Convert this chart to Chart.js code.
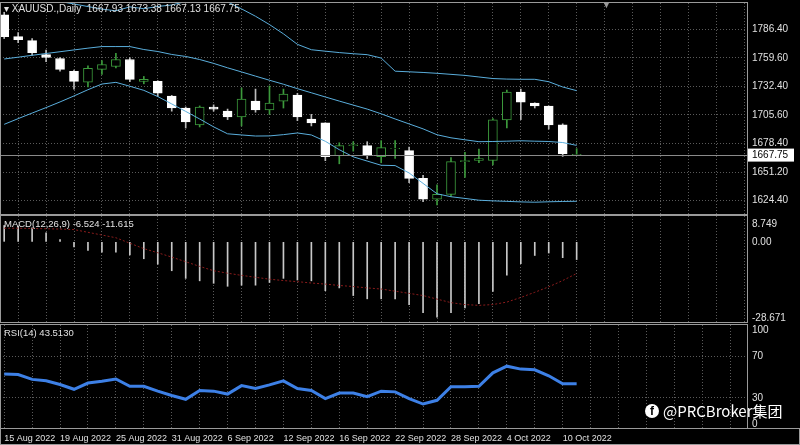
<!DOCTYPE html>
<html><head><meta charset="utf-8">
<script src="https://cdn.jsdelivr.net/npm/chart.js@4/dist/chart.umd.min.js"></script>
<style>
html,body{margin:0;padding:0;background:#000;width:800px;height:445px;overflow:hidden;font-family:"Liberation Sans",Arial,sans-serif}
.cv{position:absolute;left:0;width:800px}
.frame{position:absolute;border:1px solid #9a9a9a;box-sizing:border-box;pointer-events:none}
.lbl{position:absolute;color:#e0e0e0;font-size:10px;white-space:nowrap}
#wm{position:absolute;left:645px;top:400px;color:#fff;font-family:"Noto Sans CJK SC","Noto Sans",sans-serif;font-size:15px;display:flex;align-items:center;gap:4px}
#wm .fb{display:inline-block;width:14px;height:14px;border-radius:50%;background:#fff;color:#000;font-weight:bold;font-size:12px;line-height:15px;text-align:center;font-family:"Liberation Sans",sans-serif}
</style></head><body>
<div class="cv" style="top:3px;height:211px"><canvas id="c1"></canvas></div>
<div class="cv" style="top:216px;height:106px"><canvas id="c2"></canvas></div>
<div class="cv" style="top:325px;height:120px"><canvas id="c3"></canvas></div>
<div class="frame" style="left:0;top:2px;width:748px;height:213px"></div>
<div class="frame" style="left:0;top:215px;width:748px;height:108px"></div>
<div class="frame" style="left:0;top:324px;width:748px;height:105px"></div>
<div class="frame" style="left:0;top:428px;width:800px;height:17px"></div>
<div class="lbl" style="left:4px;top:3px">▾ XAUUSD.,Daily&nbsp; 1667.93 1673.38 1667.13 1667.75</div>
<div class="lbl" style="left:4px;top:218px;font-size:9.5px">MACD(12,26,9) -6.524 -11.615</div>
<div class="lbl" style="left:4px;top:327px;font-size:9.5px">RSI(14) 43.5130</div>
<div class="lbl" style="left:602px;top:0px;color:#999;font-size:9px">▼</div>
<div id="wm"><span class="fb">f</span><span>@PRCBroker集团</span></div>
<script>
// ---- data ----
const dates = ['15 Aug 2022','16 Aug','17 Aug','18 Aug','19 Aug 2022','22 Aug','23 Aug','24 Aug','25 Aug 2022','26 Aug','29 Aug','30 Aug','31 Aug 2022','1 Sep','2 Sep','5 Sep','6 Sep 2022','7 Sep','8 Sep','9 Sep','12 Sep 2022','13 Sep','14 Sep','15 Sep','16 Sep 2022','19 Sep','20 Sep','21 Sep','22 Sep 2022','23 Sep','26 Sep','27 Sep','28 Sep 2022','29 Sep','30 Sep','3 Oct','4 Oct 2022','5 Oct','6 Oct','7 Oct','10 Oct 2022','11 Oct'];
const dateTickEvery = 4;
const openP  = [1800.5,1779.8,1776.0,1762.8,1759.1,1746.8,1736.5,1748.7,1751.5,1758.1,1737.4,1737.4,1723.3,1712.0,1696.0,1712.9,1709.2,1703.5,1718.6,1710.1,1718.6,1724.2,1701.6,1697.9,1666.8,1676.2,1676.2,1665.8,1673.4,1671.5,1645.1,1625.3,1630.0,1661.1,1662.1,1662.1,1700.7,1727.1,1716.7,1713.9,1696.0,1667.93];
const highP  = [1803,1783.6,1778,1767,1760,1748,1752,1757,1764,1760,1742,1738,1724,1713,1714,1715,1711,1731,1730,1733,1730,1726,1706,1698,1679,1680,1680,1681,1681,1675,1648,1639,1665,1670,1673,1702,1729,1730,1717,1714,1697,1673.38];
const lowP   = [1778,1774,1762,1756,1747,1730,1732,1744,1750,1737,1735,1723,1709,1693,1694,1709,1701,1695,1708,1706,1712,1700,1695,1662,1659,1671,1664,1660,1664,1641,1623,1620,1628,1646,1660,1658,1693,1701,1712,1692,1666,1667.13];
const closeP = [1779.8,1777.0,1764.7,1760.0,1748.7,1737.4,1749.7,1753.4,1758.1,1739.3,1739.3,1726.1,1712.0,1698.8,1712.9,1711.0,1703.5,1720.5,1710.1,1716.7,1725.2,1703.5,1697.9,1665.8,1676.2,1677.1,1666.8,1674.3,1673.8,1645.1,1625.3,1630.0,1661.1,1662.1,1663.9,1700.7,1727.1,1717.6,1713.9,1696.0,1668.7,1667.75];
const bbUpper = [1820.7,1818.7,1817.0,1815.2,1813.2,1810.9,1808.4,1806.0,1804.4,1808.1,1806.4,1808.5,1809.9,1813.2,1814.6,1814.7,1812.9,1806.2,1799.2,1791.3,1782.5,1772.5,1767.4,1766.0,1764.7,1763.6,1762.7,1759.5,1747.0,1746.4,1745.8,1745.0,1744.0,1743.0,1741.5,1740.0,1739.5,1739.3,1739.3,1737.0,1732.0,1728.5];
const bbMiddle = [1758.6,1760.3,1762.1,1763.8,1765.5,1767.2,1768.9,1770.4,1770.4,1770.4,1767.6,1765.7,1762.9,1761.0,1758.1,1754.4,1750.2,1746.3,1742.3,1738.4,1734.6,1730.4,1726.5,1722.5,1718.6,1714.8,1711.0,1706.5,1701.6,1696.9,1692.2,1686.6,1683.7,1681.8,1680.0,1680.2,1680.5,1680.9,1680.5,1680.2,1679.2,1676.5];
const bbLower = [1696.5,1701.9,1707.2,1712.4,1717.8,1723.5,1729.4,1734.8,1736.4,1732.7,1728.8,1722.9,1715.9,1708.8,1701.6,1694.1,1687.5,1686.4,1685.4,1685.5,1686.7,1688.3,1686.4,1680.4,1672.4,1665.6,1661.6,1657.6,1657.3,1650.3,1640.4,1630.5,1627.7,1626.1,1624.4,1623.8,1623.3,1622.8,1622.5,1622.9,1623.2,1623.4];
const priceTicks = [1786.40,1759.60,1732.40,1705.60,1678.40,1651.20,1624.40];
const macdHist = [6.0,5.7,5.1,3.3,0.8,-1.9,-3.1,-3.8,-3.8,-4.8,-6.2,-8.2,-10.6,-13.4,-14.3,-15.2,-16.3,-15.9,-15.9,-14.9,-13.4,-14.0,-14.3,-17.9,-16.9,-19.7,-20.9,-20.9,-20.9,-23.0,-26.0,-27.6,-26.0,-24.2,-22.7,-18.2,-12.2,-8.0,-5.0,-4.1,-5.8,-6.5];
const macdSignal = [5.0,5.0,4.9,4.8,4.7,4.5,3.5,2.5,1.5,-0.5,-2.5,-4.0,-5.6,-7.3,-9.0,-10.6,-11.5,-12.3,-13.0,-13.7,-14.2,-14.6,-15.1,-15.5,-16.0,-16.4,-16.9,-17.3,-18.1,-18.9,-19.7,-21.0,-22.3,-23.0,-23.3,-23.0,-22.1,-20.4,-18.5,-16.5,-14.2,-11.6];
const macdTickLabels = ['8.749','0.00','-28.671'];
const rsi = [52.8,52.3,47.7,46.3,42.8,38.2,44.2,45.9,48.1,41.0,41.0,36.4,32.2,28.6,37.1,36.4,33.6,41.7,38.9,42.4,46.3,38.9,37.1,29.3,34.6,34.6,31.1,36.4,35.7,29.3,24.0,27.6,40.6,40.6,41.0,54.0,60.4,57.6,56.9,51.2,43.5,43.5];
const rsiTickLabels = ['100','70','30','0'];

// ---- helpers ----
const FONT = {family:'"Liberation Sans", Arial, sans-serif', size:10};
const XFONT = {family:'"Liberation Sans", Arial, sans-serif', size:9};
const TXT = '#e0e0e0';
const GRID = '#5a5a5a';
const idx = dates.map((d,i)=>i);
const XMIN=-0.3, XMAX=53.2, AXISW=53;
function xScale(showLabels){
  return {type:'linear',min:XMIN,max:XMAX,offset:false,
    afterBuildTicks:s=>{const t=[];for(let v=0;v<=52;v+=2)t.push({value:v});s.ticks=t;},
    afterFit:s=>{s.height=showLabels?16:0;s.paddingLeft=0;s.paddingRight=0;},
    grid:{color:GRID,lineWidth:1,drawTicks:false,borderDash:[1,2]},
    border:{display:false,dash:[1,2]},
    ticks:{display:showLabels,color:TXT,font:XFONT,align:'start',maxRotation:0,autoSkip:false,padding:4,
      callback:v=>(v%dateTickEvery===0&&dates[v]&&dates[v].includes('20'))?dates[v]:''}};
}
function yScale(min,max,ticksFn,labelFn,gridFn){
  return {position:'right',min,max,
    afterBuildTicks:s=>{s.ticks=ticksFn().map(v=>({value:v}));},
    afterFit:s=>{s.width=AXISW;s.paddingTop=0;s.paddingBottom=0;},
    grid:{color:gridFn||GRID,drawTicks:false,borderDash:[1,2]},
    border:{display:false,dash:[1,2]},
    ticks:{color:TXT,font:FONT,padding:5,crossAlign:'near',callback:labelFn}};
}
const baseOpts = {responsive:true,maintainAspectRatio:false,animation:false,
  layout:{padding:0},plugins:{legend:{display:false},tooltip:{enabled:false}},events:[]};

// ---- price chart ----
const bull = idx.map(i=>closeP[i]>=openP[i] || i===idx.length-1);
const priceLabel = {id:'priceLabel',afterDraw(c){
  const y=c.scales.y.getPixelForValue(closeP[closeP.length-1]);const a=c.chartArea;const ctx=c.ctx;
  ctx.save();ctx.strokeStyle='#8a8a8a';ctx.lineWidth=1;ctx.beginPath();ctx.moveTo(a.left,Math.round(y)+0.5);ctx.lineTo(a.right,Math.round(y)+0.5);ctx.stroke();
  ctx.fillStyle='#fff';ctx.fillRect(a.right+1,y-6,46,13);ctx.fillStyle='#000';ctx.font='10px "Liberation Sans"';ctx.textBaseline='middle';
  ctx.fillText(closeP[closeP.length-1].toFixed(2),a.right+5,y+0.5);ctx.restore();}};
new Chart(document.getElementById('c1'),{
  data:{datasets:[
    {type:'line',data:idx.map(i=>({x:i,y:bbUpper[i]})),borderColor:'#5aaedc',borderWidth:1,pointRadius:0,order:0},
    {type:'line',data:idx.map(i=>({x:i,y:bbMiddle[i]})),borderColor:'#5aaedc',borderWidth:1,pointRadius:0,order:0},
    {type:'line',data:idx.map(i=>({x:i,y:bbLower[i]})),borderColor:'#5aaedc',borderWidth:1,pointRadius:0,order:0},
    {type:'bar',grouped:false,data:idx.map(i=>({x:i,y:[openP[i],closeP[i]]})),barThickness:9,
      backgroundColor:idx.map(i=>bull[i]?'#000':'#fff'),borderColor:idx.map(i=>bull[i]?'#3c9a3c':'#fff'),borderWidth:1,borderSkipped:false,order:1},
    {type:'bar',grouped:false,data:idx.map(i=>({x:i,y:[lowP[i],highP[i]]})),barThickness:1,
      backgroundColor:idx.map(i=>bull[i]?'#3c9a3c':'#bbbbbb'),borderWidth:0,order:2}
  ]},
  options:{...baseOpts,scales:{x:xScale(false),
    y:yScale(1611.3,1811.8,()=>priceTicks,v=>v.toFixed(2))}},
  plugins:[priceLabel]});

// ---- MACD ----
const macdTickVals = [6.55,0,-27.94];
new Chart(document.getElementById('c2'),{
  data:{datasets:[
    {type:'line',data:idx.map(i=>({x:i,y:macdSignal[i]})),borderColor:'#8b1c1c',borderWidth:1,borderDash:[2,2],pointRadius:0,order:0},
    {type:'bar',grouped:false,data:idx.map(i=>({x:i,y:macdHist[i]})),barThickness:1,backgroundColor:'#c8c8c8',order:1}
  ]},
  options:{...baseOpts,scales:{x:xScale(false),
    y:yScale(-29.4,9.48,()=>macdTickVals,(v,k)=>macdTickLabels[k],()=>'transparent')}}});

// ---- RSI ----
const rsiTickVals = [95.1,70,30,4.9];
new Chart(document.getElementById('c3'),{
  data:{datasets:[
    {type:'line',data:idx.map(i=>({x:i,y:rsi[i]})),borderColor:'#3d80e6',borderWidth:3,pointRadius:0,tension:0}
  ]},
  options:{...baseOpts,scales:{x:xScale(true),
    y:yScale(0,100,()=>rsiTickVals,(v,k)=>rsiTickLabels[k],c=>(c.tick&&(c.tick.value===70||c.tick.value===30))?GRID:'transparent')}}});
</script>
</body></html>
